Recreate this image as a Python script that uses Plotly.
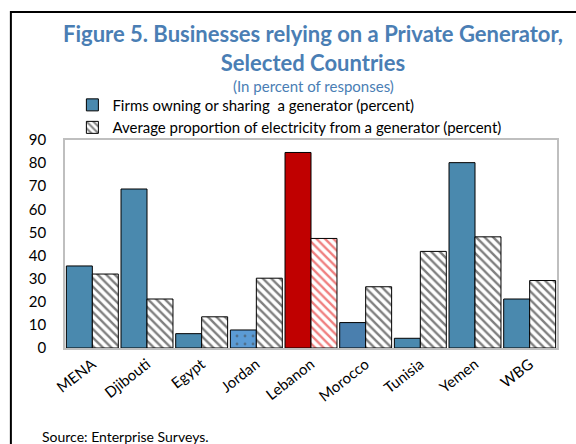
import plotly.graph_objects as go

countries = ["MENA", "Djibouti", "Egypt", "Jordan", "Lebanon", "Morocco", "Tunisia", "Yemen", "WBG"]
firms_with_generator = [35.5, 68.8, 6.2, 7.8, 84.6, 11.0, 4.2, 80.2, 21.2]
share_from_generator = [32.0, 21.2, 13.5, 30.2, 47.4, 26.5, 41.8, 48.1, 29.2]

BLUE = "#4a89ae"
TITLE_BLUE = "#4a7eb4"
FONT = "Lato"

# per-bar styling: Jordan lighter with dots, Lebanon highlighted red
bar_colors = [BLUE, BLUE, BLUE, "#5b9bd5", "#c00000", "#4a7fae", BLUE, BLUE, BLUE]
bar_shapes = ["", "", "", ".", "", "", "", "", ""]
hatch_colors = ["black", "black", "black", "black", "#e00000", "black", "black", "black", "black"]

fig = go.Figure()
fig.add_trace(go.Bar(
    x=countries,
    y=firms_with_generator,
    name="Firms owning or sharing  a generator (percent)",
    marker=dict(
        color=bar_colors,
        line=dict(color="black", width=1),
        pattern=dict(shape=bar_shapes, fgcolor="#1f6fc0", size=8, solidity=0.1),
    ),
))
fig.add_trace(go.Bar(
    x=countries,
    y=share_from_generator,
    name="Average proportion of electricity from a generator (percent)",
    marker=dict(
        color="white",
        line=dict(color="black", width=1),
        pattern=dict(shape="\\", fgcolor=hatch_colors, bgcolor="white", size=6, solidity=0.4),
    ),
))

fig.update_layout(
    width=576,
    height=444,
    margin=dict(l=65, r=19, t=140, b=96, autoexpand=False),
    paper_bgcolor="white",
    plot_bgcolor="white",
    font=dict(family=FONT, size=15, color="black"),
    barmode="group",
    bargap=0.05,
    bargroupgap=0,
    showlegend=True,
    legend=dict(
        x=0.015, y=1.247, xanchor="left", yanchor="top",
        bgcolor="rgba(0,0,0,0)", font=dict(size=15),
        itemwidth=30,
    ),
)
fig.update_xaxes(
    showline=True, mirror=True, linecolor="#bfbfbf", linewidth=1.5,
    tickangle=-38, ticks="", tickfont=dict(size=15), automargin=False,
)
fig.update_yaxes(
    range=[0, 90], dtick=10, showgrid=False, zeroline=False,
    showline=True, mirror=True, linecolor="#bfbfbf", linewidth=1.5,
    ticks="", tickfont=dict(size=15), ticklabelstandoff=14, automargin=False,
)

fig.add_annotation(
    text="<b>Figure 5. Businesses relying on a Private Generator,<br>Selected Countries</b>",
    xref="paper", yref="paper", x=0.505, y=1.585, xanchor="center", yanchor="top",
    showarrow=False, font=dict(size=22, color=TITLE_BLUE, family=FONT),
)
fig.add_annotation(
    text="(In percent of responses)",
    xref="paper", yref="paper", x=0.505, y=1.258, xanchor="center", yanchor="middle",
    showarrow=False, font=dict(size=15, color=TITLE_BLUE, family=FONT),
)
fig.add_annotation(
    text="Source: Enterprise Surveys.",
    xref="paper", yref="paper", x=-0.05, y=-0.425, xanchor="left", yanchor="middle",
    showarrow=False, font=dict(size=14, color="black", family=FONT),
)

# outer frame of the figure box
fig.add_shape(
    type="rect", xref="paper", yref="paper",
    x0=-0.11, x1=1.2, y0=-0.6, y1=1.615,
    line=dict(color="black", width=2), fillcolor="rgba(0,0,0,0)",
)

# drop the default page margin so the figure sits at the window's corner
fig.write_html(
    "out.html",
    config={"displayModeBar": False},
    post_script="document.body.style.margin='0';",
)
